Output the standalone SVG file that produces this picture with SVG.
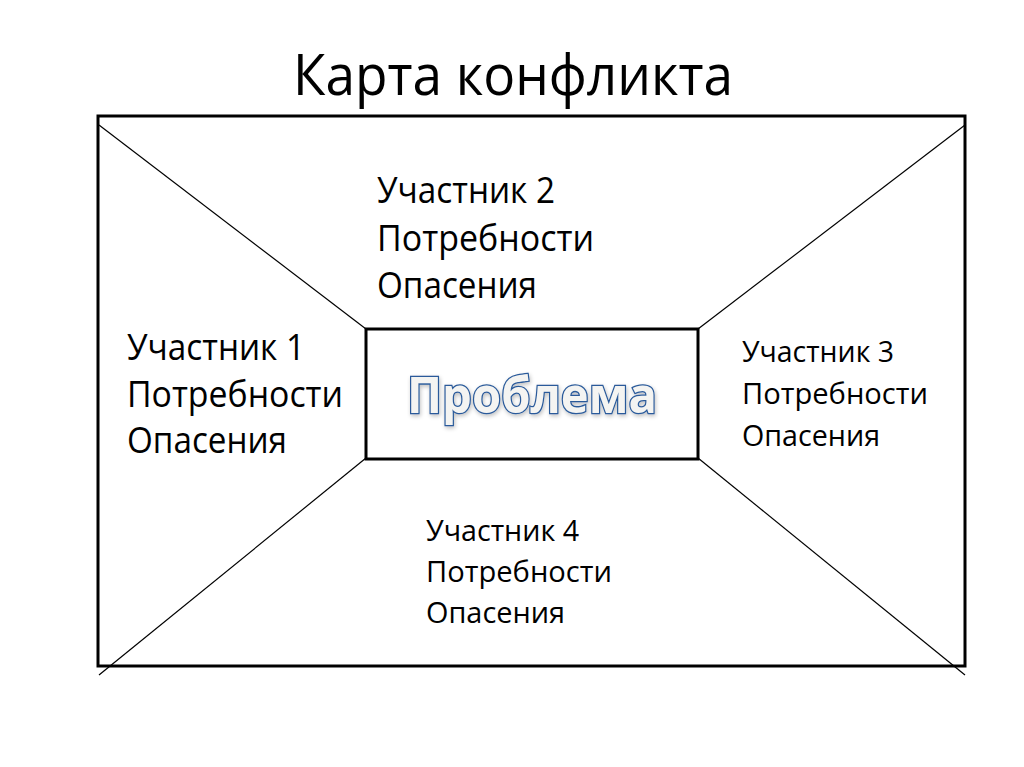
<svg xmlns="http://www.w3.org/2000/svg" width="1024" height="767" viewBox="0 0 1024 767">
<style>
.frame{fill:none;stroke:#000;stroke-width:3}
.diag{stroke:#000;stroke-width:1.2;fill:none}
.t{font-family:"Open Sans","Liberation Sans",sans-serif;fill:#000}
.big{font-size:37px}
.sm{font-size:30px}
.title{font-family:"Open Sans","Liberation Sans",sans-serif;font-size:57px;fill:#000}
.prob{font-family:"Open Sans","Liberation Sans",sans-serif;font-size:50px;font-weight:bold;fill:#f4f4f2;stroke:#2a5a9a;stroke-width:2.6;paint-order:stroke}
</style>
<defs>
<filter id="glow" x="-10%" y="-30%" width="120%" height="160%">
<feGaussianBlur in="SourceAlpha" stdDeviation="2"/>
<feOffset dx="1" dy="2" result="b"/>
<feComponentTransfer><feFuncA type="linear" slope="0.25"/></feComponentTransfer>
<feMerge><feMergeNode/><feMergeNode in="SourceGraphic"/></feMerge>
</filter>
</defs>
<rect width="1024" height="767" fill="#fff"/>
<g id="title"><text class="title" x="293" y="95" textLength="440" lengthAdjust="spacingAndGlyphs">Карта конфликта</text></g>
<g id="frame"><rect class="frame" x="98" y="116" width="867" height="550"/></g>
<g id="connectors">
<line class="diag" x1="99" y1="125" x2="366" y2="329"/>
<line class="diag" x1="965" y1="125" x2="698" y2="329"/>
<line class="diag" x1="366" y1="458" x2="99" y2="675"/>
<line class="diag" x1="698" y1="458" x2="965" y2="675"/>
</g>
<g id="problem">
<rect class="frame" x="366" y="329" width="332" height="130" fill="#fff"/>
<text class="prob" x="407" y="413" textLength="250" lengthAdjust="spacingAndGlyphs" filter="url(#glow)">Проблема</text>
</g>
<g id="participant2">
<text class="t big" x="377" y="203" textLength="178" lengthAdjust="spacingAndGlyphs">Участник 2</text>
<text class="t big" x="377" y="251" textLength="217" lengthAdjust="spacingAndGlyphs">Потребности</text>
<text class="t big" x="377" y="298" textLength="160" lengthAdjust="spacingAndGlyphs">Опасения</text>
</g>
<g id="participant1">
<text class="t big" x="127" y="360" textLength="178" lengthAdjust="spacingAndGlyphs">Участник 1</text>
<text class="t big" x="127" y="407" textLength="216" lengthAdjust="spacingAndGlyphs">Потребности</text>
<text class="t big" x="127" y="453" textLength="160" lengthAdjust="spacingAndGlyphs">Опасения</text>
</g>
<g id="participant3">
<text class="t sm" x="742" y="362" textLength="152" lengthAdjust="spacingAndGlyphs">Участник 3</text>
<text class="t sm" x="742" y="404" textLength="186" lengthAdjust="spacingAndGlyphs">Потребности</text>
<text class="t sm" x="742" y="446" textLength="138" lengthAdjust="spacingAndGlyphs">Опасения</text>
</g>
<g id="participant4">
<text class="t sm" x="426" y="541" textLength="153" lengthAdjust="spacingAndGlyphs">Участник 4</text>
<text class="t sm" x="426" y="582" textLength="186" lengthAdjust="spacingAndGlyphs">Потребности</text>
<text class="t sm" x="426" y="623" textLength="139" lengthAdjust="spacingAndGlyphs">Опасения</text>
</g>
</svg>
